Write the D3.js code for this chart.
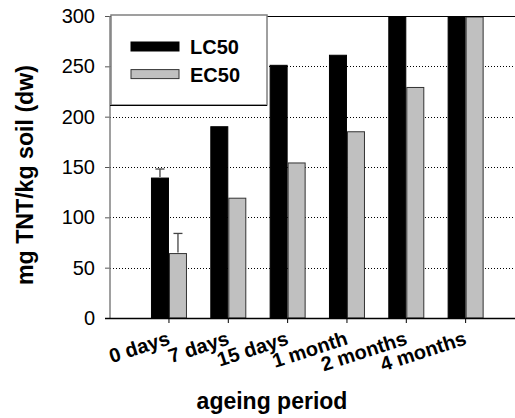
<!DOCTYPE html>
<html>
<head>
<meta charset="utf-8">
<script src="https://cdn.jsdelivr.net/npm/d3@7"></script>
<style>
  body { margin: 0; background: #fff; }
  svg { display: block; font-family: "Liberation Sans", Arial, sans-serif; }
</style>
</head>
<body>
<svg id="chart" width="515" height="418"></svg>
<script>
// data
const categories = ["0 days", "7 days", "15 days", "1 month", "2 months", "4 months"];
const series = ["LC50", "EC50"];
const lc50 = [140, 191, 252, 262, 300, 300];
const ec50 = [65, 120, 155, 186, 230, 300];
// upper error only (0 = no bar)
const lc50Err = [8, 0, 0, 0, 0, 0];
const ec50Err = [19, 0, 0, 0, 0, 0];
const yTicks = [0, 50, 100, 150, 200, 250, 300];

const svg = d3.select("#chart");

const plotL = 110, plotR = 515, plotT = 16, plotB = 318;

let y = d3.scaleLinear().domain([0, 300]).range([plotB, plotT]);
let x = d3.scaleBand().domain(categories).range([139.3, 495.3]);
let barW = 18;
let x1 = d3.scaleBand().domain(series)
    .range([x.bandwidth() / 2 - barW, x.bandwidth() / 2 + barW]);

const colors = { LC50: "#000", EC50: "#c0c0c0" };
const strokes = { LC50: "#000", EC50: "#333" };

// gridlines, dotted
svg.append("g")
    .selectAll("line")
    .data(yTicks.filter(d => d > 0 && d < 300))
    .enter()
    .append("line")
    .attr("x1", plotL)
    .attr("x2", plotR)
    .attr("y1", d => Math.round(y(d)) + 0.5)
    .attr("y2", d => Math.round(y(d)) + 0.5)
    .attr("stroke", "#000")
    .attr("stroke-dasharray", "1,2");

// bars
const rows = categories.map((c, i) => ({
    cat: c,
    vals: [
        { s: "LC50", v: lc50[i], e: lc50Err[i] },
        { s: "EC50", v: ec50[i], e: ec50Err[i] }
    ]
}));

let groups = svg.append("g")
    .selectAll("g")
    .data(rows)
    .enter()
    .append("g")
    .attr("transform", d => `translate(${x(d.cat)},0)`);

groups.selectAll("rect")
    .data(d => d.vals)
    .enter()
    .append("rect")
    .attr("x", d => x1(d.s) + 0.5)
    .attr("y", d => y(d.v) + 1)
    .attr("width", x1.bandwidth() - 1)
    .attr("height", d => plotB - y(d.v) - 1)
    .attr("fill", d => colors[d.s])
    .attr("stroke", d => strokes[d.s])
    .attr("stroke-width", 1);

// error bars (upper)
let errs = groups.selectAll("g.err")
    .data(d => d.vals.filter(v => v.e > 0))
    .enter()
    .append("g")
    .attr("class", "err")
    .attr("stroke", "#444")
    .attr("stroke-width", 1.3);

errs.append("line")
    .attr("x1", d => x1(d.s) + x1.bandwidth() / 2)
    .attr("x2", d => x1(d.s) + x1.bandwidth() / 2)
    .attr("y1", d => y(d.v))
    .attr("y2", d => y(d.v + d.e));

errs.append("line")
    .attr("x1", d => x1(d.s) + x1.bandwidth() / 2 - 4.5)
    .attr("x2", d => x1(d.s) + x1.bandwidth() / 2 + 4.5)
    .attr("y1", d => y(d.v + d.e))
    .attr("y2", d => y(d.v + d.e));

// y axis
let yAxis = svg.append("g")
    .attr("transform", `translate(${plotL},0)`)
    .call(d3.axisLeft(y).tickValues(yTicks).tickSize(5).tickPadding(10));
yAxis.select(".domain").remove();
yAxis.selectAll(".tick line").attr("stroke", "#555");
yAxis.selectAll("text")
    .attr("font-size", 20)
    .attr("font-family", "Liberation Sans, Arial, sans-serif")
    .attr("fill", "#000");
svg.append("line")
    .attr("x1", plotL).attr("x2", plotL)
    .attr("y1", plotT).attr("y2", plotB)
    .attr("stroke", "#808080")
    .attr("stroke-width", 1.5);

// x axis
let xAxis = svg.append("g")
    .attr("transform", `translate(0,${plotB})`)
    .call(d3.axisBottom(x).tickSize(5).tickFormat(""));
xAxis.select(".domain").remove();
xAxis.selectAll(".tick line").attr("stroke", "#000");
svg.append("line")
    .attr("x1", 105).attr("x2", plotR)
    .attr("y1", plotB + 0.5).attr("y2", plotB + 0.5)
    .attr("stroke", "#000")
    .attr("stroke-width", 1.5);

svg.append("g")
    .selectAll("text")
    .data(categories)
    .enter()
    .append("text")
    .attr("transform", d => `translate(${x(d) + x.bandwidth() / 2 + 2},344) rotate(-18)`)
    .attr("text-anchor", "end")
    .attr("font-size", 20)
    .attr("font-weight", "bold")
    .text(d => d);

// top frame line
svg.append("line")
    .attr("x1", plotL).attr("x2", plotR)
    .attr("y1", plotT + 0.5).attr("y2", plotT + 0.5)
    .attr("stroke", "#000")
    .attr("stroke-width", 1.2);

// titles
svg.append("text")
    .attr("x", 272)
    .attr("y", 409)
    .attr("text-anchor", "middle")
    .attr("font-size", 23)
    .attr("font-weight", "bold")
    .text("ageing period");

svg.append("text")
    .attr("transform", "translate(33,175) rotate(-90)")
    .attr("text-anchor", "middle")
    .attr("font-size", 24)
    .attr("font-weight", "bold")
    .attr("textLength", 220)
    .attr("lengthAdjust", "spacingAndGlyphs")
    .text("mg TNT/kg soil (dw)");

// legend
let lg = svg.append("g");
lg.append("rect")
    .attr("x", 111).attr("y", 15)
    .attr("width", 156).attr("height", 90)
    .attr("fill", "#fff")
    .attr("stroke", "#808080")
    .attr("stroke-width", 1.5);
lg.append("line")
    .attr("x1", plotL).attr("x2", 267)
    .attr("y1", 105.5).attr("y2", 105.5)
    .attr("stroke", "#000")
    .attr("stroke-width", 1.2);

let items = lg.selectAll("g.item")
    .data(series)
    .enter()
    .append("g")
    .attr("class", "item")
    .attr("transform", (d, i) => `translate(131,${42 + i * 27.6})`);
items.append("rect")
    .attr("width", 48).attr("height", 9)
    .attr("fill", d => colors[d])
    .attr("stroke", d => strokes[d]);
items.append("text")
    .attr("x", 59)
    .attr("y", 12)
    .attr("font-size", 20)
    .attr("font-weight", "bold")
    .text(d => d);
</script>
</body>
</html>
